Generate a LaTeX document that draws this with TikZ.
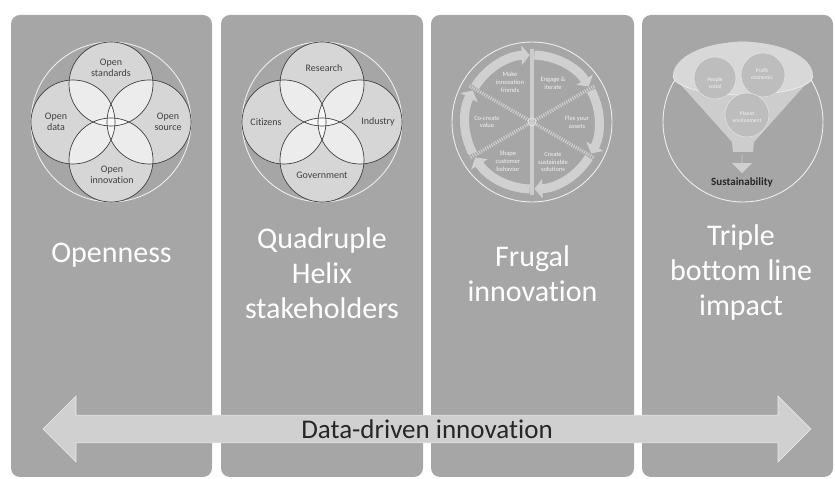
\documentclass[tikz,border=0pt]{standalone}
\usepackage{fontspec}
\setmainfont{Carlito}[Ligatures=NoCommon]
\usepackage{tikz}
\usetikzlibrary{arrows.meta,shapes.arrows,positioning}

\definecolor{panelgray}{HTML}{A6A6A6}
\definecolor{bandgray}{HTML}{D0D0D0}
\definecolor{funnelgray}{HTML}{CDCDCD}
\definecolor{mouthgray}{HTML}{D8D8D8}
\definecolor{ballgray}{HTML}{BDBDBD}
\definecolor{inkgray}{HTML}{404040}
\definecolor{textdark}{HTML}{262626}

\begin{document}
\begin{tikzpicture}[x=1pt,y=1pt,
panel/.style={fill=panelgray,rounded corners=9pt,minimum height=462pt,inner sep=0pt},
title/.style={text=white,align=center,font=\fontsize{30}{35}\selectfont},
rim/.style={draw=white!80!panelgray,line width=0.9pt},
petal/.style={fill=white,fill opacity=0.55},
petaledge/.style={draw=inkgray,line width=0.7pt},
petaltext/.style={text=inkgray,align=center,font=\fontsize{10}{11.5}\selectfont},
band/.style={draw=bandgray,line width=9pt,-{Triangle[length=8pt,width=19pt]}},
hub/.style={draw=bandgray!90!panelgray,line width=4pt},
spoke/.style={draw=bandgray!90!panelgray,line width=3.5pt,dash pattern=on 1.2pt off 1.2pt},
wheeltext/.style={text=white!85!panelgray,align=center,font=\fontsize{6.5}{7.8}\selectfont},
ball/.style={fill=ballgray,draw=white!60!ballgray,line width=0.5pt},
balltext/.style={text=white!85!ballgray,align=center,font=\fontsize{5.5}{6.5}\selectfont}]

\useasboundingbox (0,0) rectangle (835,479);

\node[panel,minimum width=201pt] (p1) at (111.5,233) {};
\node[panel,minimum width=202pt] (p2) at (322,233) {};
\node[panel,minimum width=203pt] (p3) at (532.5,233) {};
\node[panel,minimum width=191pt] (p4) at (737.5,233) {};

\node[title] (t1) at (111.5,224) {Openness};
\node[title] (t2) at (322,206) {Quadruple\\Helix\\stakeholders};
\node[title] (t3) at (532.5,205) {Frugal\\innovation};
\node[title] (t4) at (741,206) {Triple\\bottom line\\impact};

\coordinate (c1) at (111,357);
\draw[rim] (c1) circle (80);
\foreach \a in {0,90,180,270}
    \fill[petal] ([shift={(\a:38)}]c1) circle (42);
\foreach \a in {0,90,180,270}
    \draw[petaledge] ([shift={(\a:38)}]c1) circle (42);
\node[petaltext] (ostd) at (111,411) {Open\\standards};
\node[petaltext] (odat) at (56,357) {Open\\data};
\node[petaltext] (osrc) at (168,357) {Open\\source};
\node[petaltext] (oinn) at (112,304) {Open\\innovation};

\coordinate (c2) at (322,357);
\draw[rim] (c2) circle (80);
\foreach \a in {0,90,180,270}
    \fill[petal] ([shift={(\a:38)}]c2) circle (42);
\foreach \a in {0,90,180,270}
    \draw[petaledge] ([shift={(\a:38)}]c2) circle (42);
\node[petaltext] (res) at (324,411) {Research};
\node[petaltext] (cit) at (266,357) {Citizens};
\node[petaltext] (ind) at (378,357) {Industry};
\node[petaltext] (gov) at (322,304) {Government};

\coordinate (c3) at (532,357);
\draw[rim] (c3) circle (80);
\draw[hub] ([shift={(90:73)}]c3) -- ([shift={(270:73)}]c3);
\foreach \a in {30,150}
    \draw[spoke] ([shift={(\a:72)}]c3) -- ([shift={(\a+180:72)}]c3);
\foreach \a in {90,30,-30,-90,-150,150}
    \draw[band] ([shift={(\a+58:67)}]c3) arc[start angle=\a+58,end angle=\a+2,radius=67];
\draw[rim,line width=0.6pt] (c3) circle (4);
\node[wheeltext] (fri) at (510,397) {Make\\innovation\\friends};
\node[wheeltext] (eng) at (553,396) {Engage \&\\iterate};
\node[wheeltext] (flx) at (577,357) {Flex your\\assets};
\node[wheeltext] (sol) at (553,317) {Create\\sustainable\\solutions};
\node[wheeltext] (shp) at (508,318) {Shape\\customer\\behavior};
\node[wheeltext] (cov) at (487,357) {Co-create\\value};

\coordinate (c4) at (743,357);
\draw[rim] (c4) circle (80);
\fill[funnelgray] (673,403) -- (732,337) -- (733,327) -- (753,327) -- (754,337) -- (813,403)
    arc[start angle=0,end angle=180,x radius=70,y radius=34] -- cycle;
\fill[mouthgray] (813,403) arc[start angle=0,end angle=180,x radius=70,y radius=34]
    arc[start angle=180,end angle=360,x radius=70,y radius=19];
\draw[white!70!funnelgray,line width=0.6pt] (673,403) arc[start angle=180,end angle=360,x radius=70,y radius=19];
\draw[ball] (715,401) circle (21);
\draw[ball] (763,404) circle (22);
\draw[ball] (747,364) circle (22);
\node[balltext] (ppl) at (715,396) {People\\social};
\node[balltext] (pft) at (762,405) {Profit\\economic};
\node[balltext] (pln) at (747,362) {Planet\\environment};
\node[single arrow,shape border rotate=270,fill=bandgray,minimum width=20pt,
    single arrow head extend=5pt,minimum height=18pt,inner sep=0pt] (down) at (742,315) {};
\node[text=textdark,font=\bfseries\fontsize{11}{12}\selectfont,below=1pt of down] (sus) {Sustainability};

\node[double arrow,fill=bandgray,draw=white!60!bandgray,line width=0.6pt,minimum width=66pt,
    double arrow head extend=13.5pt,minimum height=768pt,inner sep=0pt,
    text=textdark,font=\fontsize{27}{30}\selectfont] (ddi) at (427,50) {Data-driven innovation};
\end{tikzpicture}
\end{document}
